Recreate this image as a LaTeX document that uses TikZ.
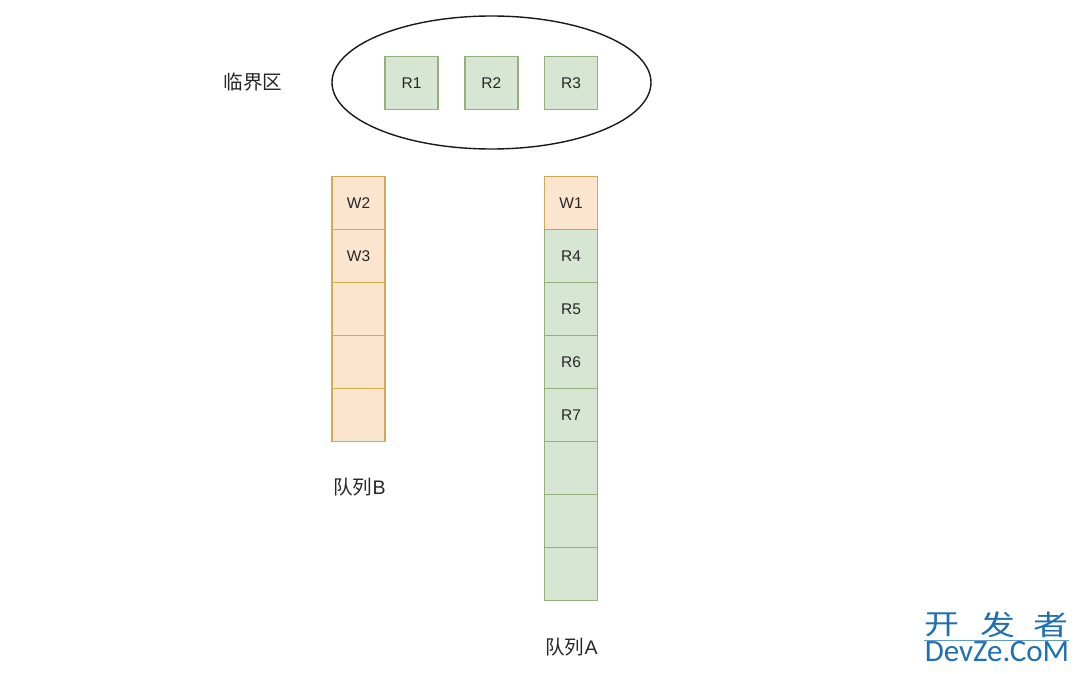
\documentclass[tikz,border=0pt]{standalone}
\usepackage{fontspec}
\usetikzlibrary{shapes.geometric}
\setmainfont{Liberation Sans}
\newfontfamily\cjk{Noto Sans CJK SC}
\newfontfamily\wmfont{Carlito}
\definecolor{gfill}{HTML}{D7E5D3}
\definecolor{gline}{HTML}{94B07E}
\definecolor{ofill}{HTML}{FCE5CE}
\definecolor{oline}{HTML}{D6A955}
\definecolor{wblue}{HTML}{1F70B0}
\tikzset{
 cellbox/.style={minimum width=53pt,minimum height=53pt,inner sep=0pt,line width=1.4pt,draw,font=\fontsize{15.5}{17}\selectfont,text=black!85},
 gbox/.style={cellbox,fill=gfill,draw=gline},
 obox/.style={cellbox,fill=ofill,draw=oline},
 lab/.style={inner sep=0pt,font=\fontsize{19.6}{22}\selectfont,text=black!85},
 wmch/.style={inner sep=0pt,text=wblue,xscale=1.25,font=\fontsize{28}{30}\selectfont},
}
\begin{document}
\begin{tikzpicture}[x=1pt,y=-1pt]
\useasboundingbox (0,0) rectangle (1080,674);
\node[ellipse,draw=black!90,line width=1.4pt,minimum width=319pt,minimum height=133pt,inner sep=0pt] (crit) at (491.5,82.5) {};
\node[lab] (critlab) at (253,82.5) {\cjk 临界区};
\node[gbox] (r1) at (411.5,82.8) {R1};
\node[gbox] (r2) at (491.3,82.8) {R2};
\node[gbox] (r3) at (571,82.8) {R3};
\node[obox] (w2) at (358.6,202.8) {W2};
\node[obox] (w3) at (358.6,255.8) {W3};
\node[obox] (b3) at (358.6,308.8) {};
\node[obox] (b4) at (358.6,361.8) {};
\node[obox] (b5) at (358.6,414.8) {};
\node[obox] (w1) at (571,202.8) {W1};
\node[gbox] (r4) at (571,255.8) {R4};
\node[gbox] (r5) at (571,308.8) {R5};
\node[gbox] (r6) at (571,361.8) {R6};
\node[gbox] (r7) at (571,414.8) {R7};
\node[gbox] (a6) at (571,467.8) {};
\node[gbox] (a7) at (571,520.8) {};
\node[gbox] (a8) at (571,573.8) {};
\node[lab] (qb) at (359.5,487) {{\cjk 队列}B};
\node[lab] (qa) at (571.5,647) {{\cjk 队列}A};
\node[wmch] (wm1) at (942,624.5) {\cjk 开};
\node[wmch] (wm2) at (997.5,624.5) {\cjk 发};
\node[wmch] (wm3) at (1050.5,624.5) {\cjk 者};
\draw[wblue!70,line width=0.6pt] (924,640) coordinate (wa) -- (1069,640) coordinate (wb);
\node[inner sep=0pt,text=wblue,font=\wmfont\fontsize{31}{33}\selectfont] (wm4) at (997,652) {DevZe.CoM};
\end{tikzpicture}
\end{document}
